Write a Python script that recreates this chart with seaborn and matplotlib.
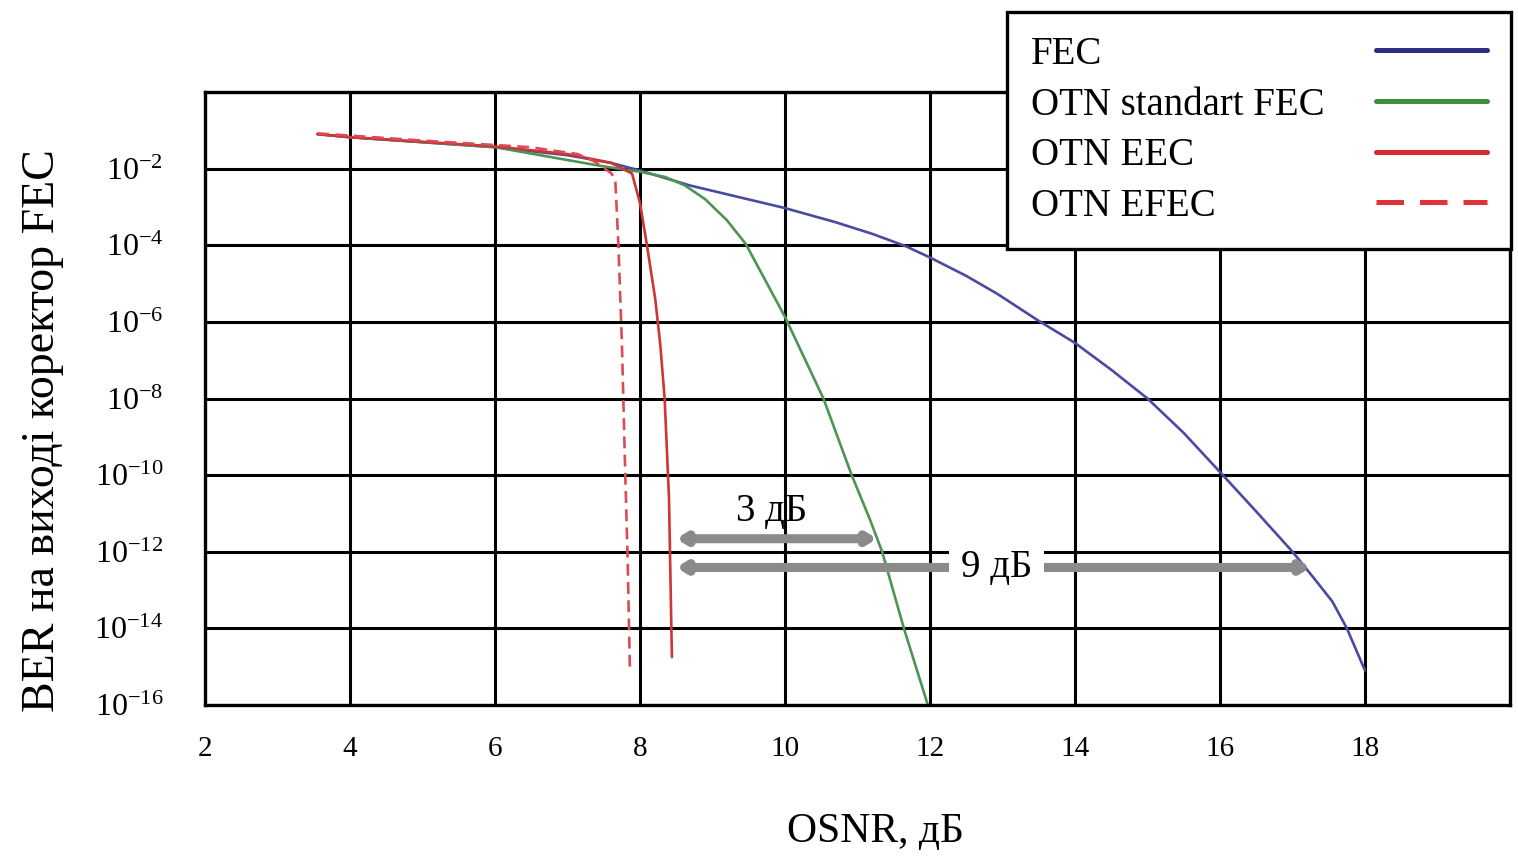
import numpy as np
import pandas as pd
import matplotlib
matplotlib.use("Agg")
import matplotlib.pyplot as plt
from matplotlib.lines import Line2D
from matplotlib.ticker import NullLocator
import seaborn as sns

# ---------------- data ----------------
series_names = ["FEC", "OTN standart FEC", "OTN EEC", "OTN EFEC"]

fec_osnr = [3.55, 4.0, 6.0, 7.0, 7.6, 8.0, 8.69, 10.0, 10.7, 11.2, 11.66, 12.0, 12.5,
            12.93, 13.48, 14.0, 14.5, 15.0, 15.5, 16.0, 16.5, 17.0, 17.3, 17.55, 17.75, 18.0]
fec_log_ber = [-1.10, -1.18, -1.44, -1.65, -1.85, -2.05, -2.44, -3.03, -3.40, -3.70, -4.02,
               -4.32, -4.80, -5.27, -5.95, -6.55, -7.25, -8.0, -8.9, -9.92, -10.95, -12.0,
               -12.7, -13.3, -14.0, -15.1]

std_osnr = [3.55, 4.0, 6.0, 7.43, 7.87, 8.0, 8.35, 8.62, 8.9, 9.2, 9.46, 10.0, 10.53,
            10.92, 11.17, 11.34, 11.64, 11.97]
std_log_ber = [-1.10, -1.18, -1.44, -1.92, -2.05, -2.08, -2.22, -2.44, -2.80, -3.35, -3.97,
               -5.87, -8.0, -10.0, -11.15, -12.0, -14.0, -16.0]

eec_osnr = [3.55, 4.0, 6.0, 7.0, 7.6, 7.89, 8.0, 8.1, 8.21, 8.28, 8.34, 8.40, 8.44]
eec_log_ber = [-1.10, -1.18, -1.42, -1.62, -1.85, -2.13, -2.9, -4.05, -5.4, -6.6, -8.0,
               -10.6, -14.75]

efec_osnr = [3.55, 5.1, 6.48, 7.14, 7.38, 7.61, 7.66, 7.70, 7.75, 7.79, 7.83, 7.86]
efec_log_ber = [-1.08, -1.28, -1.44, -1.62, -1.82, -2.13, -2.35, -3.9, -6.53, -9.5,
                -12.24, -15.0]

x_ticks = [2, 4, 6, 8, 10, 12, 14, 16, 18, 20]
x_tick_labels = ["2", "4", "6", "8", "10", "12", "14", "16", "18", ""]
y_tick_exps = [0, -2, -4, -6, -8, -10, -12, -14, -16]

gain_small = {"label": "3 дБ", "x0": 8.5, "x1": 11.27, "log_y": -11.66}
gain_big = {"label": "9 дБ", "x0": 8.5, "x1": 17.25, "log_y": -12.41}

# ---------------- style ----------------
sns.set_style("white")
plt.rcParams["font.family"] = ["Liberation Serif", "DejaVu Serif"]
plt.rcParams["mathtext.fontset"] = "custom"
plt.rcParams["mathtext.rm"] = "Liberation Serif"
plt.rcParams["mathtext.it"] = "Liberation Serif:italic"
plt.rcParams["mathtext.bf"] = "Liberation Serif:bold"
for key in ("text.color", "axes.labelcolor", "xtick.color", "ytick.color"):
    plt.rcParams[key] = "black"

colors = {"FEC": "#4a4aa2", "OTN standart FEC": "#4c9552",
          "OTN EEC": "#d03535", "OTN EFEC": "#dc4a55"}
legend_colors = {"FEC": "#2e2e80", "OTN standart FEC": "#3d8f3d",
                 "OTN EEC": "#d62a2a", "OTN EFEC": "#e0303a"}

frames = []
for name, xs, ys in zip(series_names,
                        [fec_osnr, std_osnr, eec_osnr, efec_osnr],
                        [fec_log_ber, std_log_ber, eec_log_ber, efec_log_ber]):
    frames.append(pd.DataFrame({"OSNR": xs, "BER": 10.0 ** np.array(ys), "series": name}))
df = pd.concat(frames, ignore_index=True)

fig = plt.figure(figsize=(15.18, 8.58), dpi=100)
W, H = 1518, 858
ax = fig.add_axes([205 / W, 1 - 705 / H, (1510 - 205) / W, (705 - 92) / H])

sns.lineplot(data=df, x="OSNR", y="BER", hue="series", style="series",
             hue_order=series_names, style_order=series_names,
             palette=colors,
             dashes={"FEC": "", "OTN standart FEC": "", "OTN EEC": "", "OTN EFEC": (4.5, 2.4)},
             sort=False, estimator=None, linewidth=1.9, legend=False, ax=ax)

ax.set_yscale("log")
ax.set_xlim(2, 20)
ax.set_ylim(1e-16, 1)
ax.set_xticks(x_ticks)
ax.set_xticklabels(x_tick_labels, fontsize=21)
ax.set_yticks([10.0 ** e for e in y_tick_exps])
ax.set_yticklabels(["" if e == 0 else r"$10^{%d}$" % e for e in y_tick_exps], fontsize=23)
ax.yaxis.set_minor_locator(NullLocator())
ax.tick_params(axis="x", length=0, pad=22)
ax.tick_params(axis="y", length=0, pad=30)
ax.grid(True, color="black", linewidth=2.2)
ax.set_axisbelow(True)
for s in ax.spines.values():
    s.set_color("black")
    s.set_linewidth(2.4)

ax.set_xlabel("OSNR, дБ", fontsize=30)
ax.set_ylabel("BER на виході коректор FEC", fontsize=33)
ax.xaxis.set_label_coords((875 - 205) / 1305, (705 - 813) / 613)
ax.yaxis.set_label_coords((64 - 205) / 1305, (705 - 431) / 613)

# gain arrows
arrow_kw = dict(arrowstyle="<->,head_length=0.45,head_width=0.28",
                color="#8a8a8a", lw=6.5, shrinkA=0, shrinkB=0)
for g in (gain_small, gain_big):
    y = 10.0 ** g["log_y"]
    ax.annotate("", xy=(g["x1"], y), xytext=(g["x0"], y), arrowprops=arrow_kw, zorder=4)
ax.text(9.82, 10.0 ** -10.95, gain_small["label"], fontsize=28, ha="center", va="center", zorder=5)
ax.text(12.92, 10.0 ** gain_big["log_y"], gain_big["label"], fontsize=28, ha="center",
        va="center", zorder=5,
        bbox=dict(boxstyle="square,pad=0.3", fc="white", ec="none"))

# legend (labels left, lines right)
handles = []
for name in series_names:
    ls = (0, (5.5, 3.2)) if name == "OTN EFEC" else "-"
    handles.append(Line2D([0], [0], color=legend_colors[name], lw=3.6, linestyle=ls))
leg = ax.legend(handles, series_names, loc="upper left",
                bbox_to_anchor=(1007 / W, 1 - 12 / H), bbox_transform=fig.transFigure,
                markerfirst=False, fontsize=28, frameon=True, fancybox=False,
                edgecolor="black", framealpha=1, borderpad=0.62, labelspacing=0.35,
                handlelength=2.85, handletextpad=1.33, borderaxespad=0)
leg.get_frame().set_linewidth(2.4)

fig.canvas.draw()
renderer = fig.canvas.get_renderer()
texts = leg.get_texts()
widths = [t.get_window_extent(renderer).width for t in texts]
maxw = max(widths)
column = leg._legend_handle_box.get_children()[0]
for item, w in zip(column.get_children(), widths):
    item.sep = item.sep + (maxw - w) * 72.0 / fig.dpi

fig.savefig("out.png", dpi=100)
